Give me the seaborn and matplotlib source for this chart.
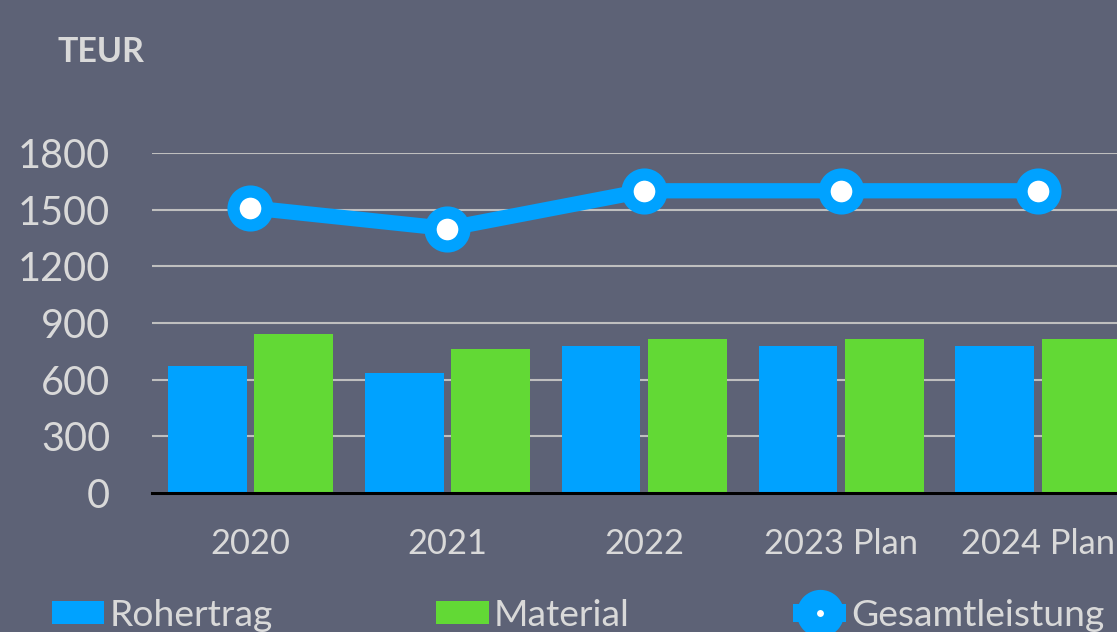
import matplotlib
matplotlib.use("Agg")
import matplotlib.pyplot as plt
from matplotlib.lines import Line2D
from matplotlib.patches import Patch
import pandas as pd
import seaborn as sns

# data (TEUR)
jahre = ["2020", "2021", "2022", "2023 Plan", "2024 Plan"]
rohertrag = [670, 635, 780, 780, 780]
material = [840, 765, 815, 815, 815]
gesamtleistung = [1510, 1400, 1600, 1600, 1600]

bg = "#5D6276"
blue = "#00A2FF"
green = "#62D935"
txt = "#D9D9D9"

df_bars = pd.DataFrame({
    "Jahr": jahre * 2,
    "Wert": rohertrag + material,
    "Serie": ["Rohertrag"] * len(jahre) + ["Material"] * len(jahre),
})
df_line = pd.DataFrame({"Jahr": jahre, "Wert": gesamtleistung})

sns.set_theme(style="white")
plt.rcParams["font.family"] = ["Lato", "DejaVu Sans"]

fig = plt.figure(figsize=(11.17, 6.32), dpi=100, facecolor=bg)
ax = fig.add_axes([152 / 1117, 139 / 632, 1 - 152 / 1117, 340 / 632])
ax.set_facecolor(bg)

sns.barplot(data=df_bars, x="Jahr", y="Wert", hue="Serie", palette=[blue, green],
            width=0.88, gap=0.09, saturation=1, linewidth=0, legend=False, ax=ax)
sns.pointplot(data=df_line, x="Jahr", y="Wert", color=blue, markers="o",
              linestyles="-", ax=ax)
for ln in ax.lines:
    ln.set_linewidth(11)
    ln.set_markersize(24.4)
    ln.set_markeredgewidth(8.8)
    ln.set_markerfacecolor("white")
    ln.set_markeredgecolor(blue)
    ln.set_zorder(5)
    ln.set_clip_on(False)

ax.set_ylim(0, 1800)
ax.set_yticks(range(0, 1801, 300))
ax.set_xlim(-0.5, 4.40)
ax.yaxis.grid(True, color="#BFBFBF", linewidth=1.5)
ax.set_axisbelow(True)
for s in ["top", "right", "left"]:
    ax.spines[s].set_visible(False)
ax.spines["bottom"].set_color("black")
ax.spines["bottom"].set_linewidth(2.2)
ax.spines["bottom"].set_zorder(6)
ax.tick_params(axis="y", labelsize=28.5, labelcolor=txt, length=0, pad=30)
ax.tick_params(axis="x", labelsize=24.8, labelcolor=txt, length=0, pad=25)
ax.set_xlabel("")
ax.set_ylabel("")

fig.text(57 / 1117, 1 - 62 / 632, "TEUR", color=txt, fontsize=24.5,
         fontweight="bold", va="baseline", ha="left")

handles = [
    Patch(facecolor=blue, edgecolor="none"),
    Patch(facecolor=green, edgecolor="none"),
    Line2D([], [], color=blue, lw=13, marker="o", markersize=19.5, markeredgewidth=14.5,
           markerfacecolor="white", markeredgecolor=blue, solid_capstyle="butt"),
]
fig.legend(handles, ["Rohertrag", "Material", "Gesamtleistung"], ncol=3,
           loc="center left", bbox_to_anchor=(52 / 1117, 1 - 615 / 632),
           frameon=False, fontsize=26.8, labelcolor=txt, borderpad=0, borderaxespad=0,
           handlelength=1.4, handleheight=0.57, handletextpad=0.14, columnspacing=4.4)

fig.savefig("out.png", dpi=100, facecolor=bg)
